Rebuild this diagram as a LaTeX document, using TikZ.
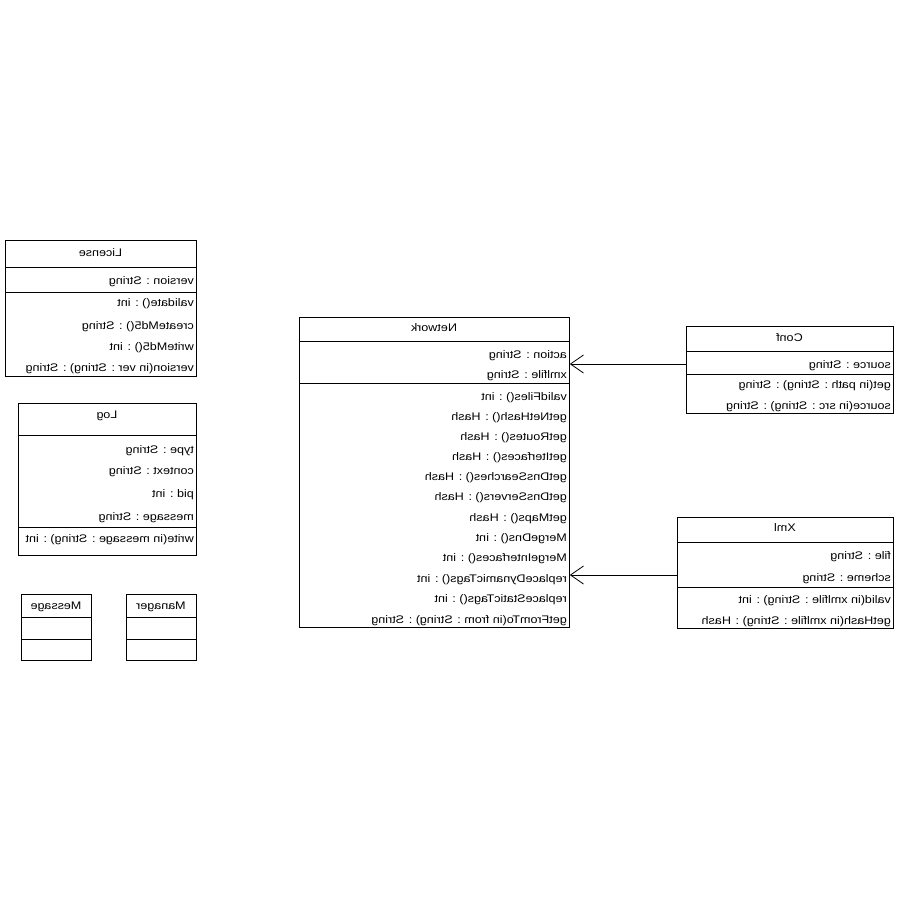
\documentclass[tikz,border=0pt]{standalone}
\usepackage{fontspec}
\setmainfont{Liberation Sans}[FakeStretch=1.14]
\usepackage{graphicx}
\usetikzlibrary{arrows.meta}
\begin{document}
\begin{tikzpicture}[x=1pt,y=-1pt,
  box/.style={draw, line width=0.8pt, inner sep=0pt, anchor=north west},
  txt/.style={inner sep=0pt, anchor=east, yshift=-1.5pt, text height=8pt, text depth=2.5pt, font=\fontsize{11}{13}\selectfont},
  ttl/.style={inner sep=0pt, yshift=-1pt, text height=8pt, text depth=2.5pt, font=\fontsize{11}{13}\selectfont},
  sep/.style={line width=0.8pt},
  assoc/.style={line width=0.8pt, -{Straight Barb[length=13pt,width=18pt,line width=0.8pt]}}]
\useasboundingbox[fill=white] (0,0) rectangle (900,900);
% License
\node[box, minimum width=191pt, minimum height=136pt] (lic) at (5,240) {};
\node[ttl] (licT) at (100.5,253) {\reflectbox{License}};
\draw[sep] (5,267) -- (196,267);
\node[txt] (licA1) at (194,280) {\reflectbox{version : String}};
\draw[sep] (5,292) -- (196,292);
\node[txt] (licM1) at (194,302) {\reflectbox{validate() : int}};
\node[txt] (licM2) at (194,325) {\reflectbox{createMd5() : String}};
\node[txt] (licM3) at (194,346) {\reflectbox{writeMd5() : int}};
\node[txt] (licM4) at (194,367) {\reflectbox{version(in ver : String) : String}};
% Log
\node[box, minimum width=178pt, minimum height=152pt] (log) at (18,403) {};
\node[ttl] (logT) at (107,415) {\reflectbox{Log}};
\draw[sep] (18,435) -- (196,435);
\node[txt] (logA1) at (194,449) {\reflectbox{type : String}};
\node[txt] (logA2) at (194,470) {\reflectbox{context : String}};
\node[txt] (logA3) at (194,493) {\reflectbox{pid : int}};
\node[txt] (logA4) at (194,516) {\reflectbox{message : String}};
\draw[sep] (18,527) -- (196,527);
\node[txt] (logM1) at (194,538) {\reflectbox{write(in message : String) : int}};
% Message
\node[box, minimum width=70pt, minimum height=66pt] (msg) at (21,594) {};
\node[ttl] (msgT) at (56,606) {\reflectbox{Message}};
\draw[sep] (21,617) -- (91,617);
\draw[sep] (21,639) -- (91,639);
% Manager
\node[box, minimum width=70pt, minimum height=66pt] (mgr) at (126,594) {};
\node[ttl] (mgrT) at (161,606) {\reflectbox{Manager}};
\draw[sep] (126,617) -- (196,617);
\draw[sep] (126,639) -- (196,639);
% Network
\node[box, minimum width=270pt, minimum height=310pt] (net) at (299,317) {};
\node[ttl] (netT) at (434,328) {\reflectbox{Network}};
\draw[sep] (299,341) -- (569,341);
\node[txt] (netA1) at (567,354) {\reflectbox{action : String}};
\node[txt] (netA2) at (567,374) {\reflectbox{xmlfile : String}};
\draw[sep] (299,383) -- (569,383);
\node[txt] (netM1) at (567,396) {\reflectbox{validFiles() : int}};
\node[txt] (netM2) at (567,416) {\reflectbox{getNetHash() : Hash}};
\node[txt] (netM3) at (567,436) {\reflectbox{getRoutes() : Hash}};
\node[txt] (netM4) at (567,456) {\reflectbox{getIterfaces() : Hash}};
\node[txt] (netM5) at (567,476) {\reflectbox{getDnsSearches() : Hash}};
\node[txt] (netM6) at (567,496) {\reflectbox{getDnsServers() : Hash}};
\node[txt] (netM7) at (567,517) {\reflectbox{getMaps() : Hash}};
\node[txt] (netM8) at (567,537) {\reflectbox{MergeDns() : int}};
\node[txt] (netM9) at (567,557) {\reflectbox{MergeInterfaces() : int}};
\node[txt] (netM10) at (567,578) {\reflectbox{replaceDynamicTags() : int}};
\node[txt] (netM11) at (567,598) {\reflectbox{replaceStaticTags() : int}};
\node[txt] (netM12) at (567,619) {\reflectbox{getFromTo(in from : String) : String}};
% Conf
\node[box, minimum width=207pt, minimum height=87pt] (conf) at (686,326) {};
\node[ttl] (confT) at (789.5,338) {\reflectbox{Conf}};
\draw[sep] (686,351) -- (893,351);
\node[txt] (confA1) at (891,364) {\reflectbox{source : String}};
\draw[sep] (686,374) -- (893,374);
\node[txt] (confM1) at (891,384) {\reflectbox{get(in path : String) : String}};
\node[txt] (confM2) at (891,405) {\reflectbox{source(in src : String) : String}};
% Xml
\node[box, minimum width=216pt, minimum height=111pt] (xml) at (677,517) {};
\node[ttl] (xmlT) at (785,528) {\reflectbox{Xml}};
\draw[sep] (677,542) -- (893,542);
\node[txt] (xmlA1) at (891,555) {\reflectbox{file : String}};
\node[txt] (xmlA2) at (891,577) {\reflectbox{scheme : String}};
\draw[sep] (677,587) -- (893,587);
\node[txt] (xmlM1) at (891,599) {\reflectbox{valid(in xmlfile : String) : int}};
\node[txt] (xmlM2) at (891,620) {\reflectbox{getHash(in xmlfile : String) : Hash}};
% associations
\coordinate (cy) at (0,364);
\coordinate (xy) at (0,575);
\draw[assoc] (conf.west |- cy) -- (net.east |- cy);
\draw[assoc] (xml.west |- xy) -- (net.east |- xy);
\end{tikzpicture}
\end{document}
